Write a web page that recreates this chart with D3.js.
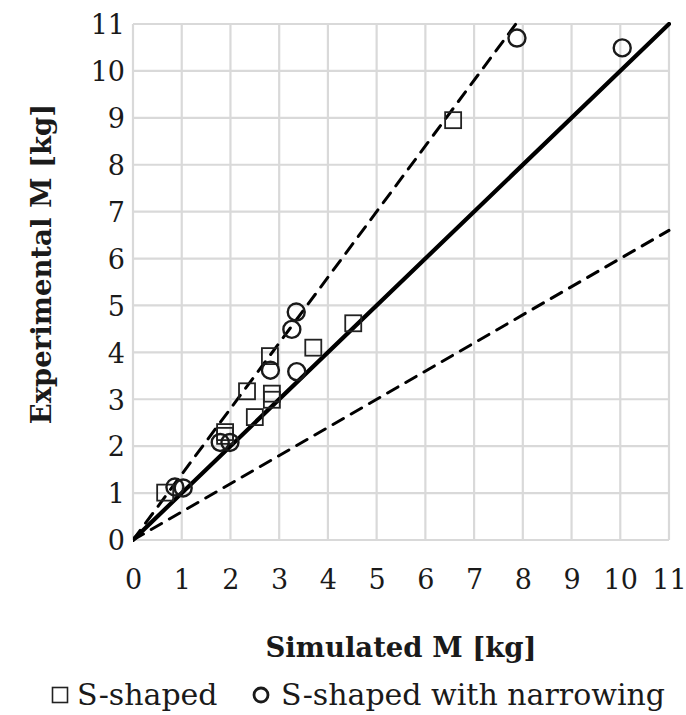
<!DOCTYPE html>
<html>
<head>
<meta charset="utf-8">
<script src="https://cdn.jsdelivr.net/npm/d3@7/dist/d3.min.js"></script>
<style>
  html, body { margin: 0; padding: 0; background: #fff; }
  svg { display: block; }
  text { font-family: "DejaVu Serif", "Liberation Serif", serif; fill: #1a1a1a; }
</style>
</head>
<body>
<svg id="chart" width="686" height="715"></svg>
<script>
// ---- data ----
const ticks = [0, 1, 2, 3, 4, 5, 6, 7, 8, 9, 10, 11];
const sShapedSim = [6.57, 4.52, 3.70, 2.81, 2.34, 2.85, 2.85, 2.50, 1.89, 1.89, 0.66];
const sShapedExp = [8.95, 4.62, 4.10, 3.92, 3.17, 3.12, 2.99, 2.62, 2.30, 2.22, 1.01];
const narrowSim = [7.88, 10.04, 3.35, 3.26, 2.82, 3.36, 1.79, 1.99, 0.86, 1.03];
const narrowExp = [10.70, 10.49, 4.86, 4.49, 3.62, 3.59, 2.08, 2.08, 1.13, 1.11];
const refSlopes = [1.0, 1.4, 0.6]; // y = x and ±40 %
const legendLabels = ["S-shaped", "S-shaped with narrowing"];

// ---- layout ----
const svg = d3.select("#chart");
const L = 133, R = 669, T = 24, B = 540;
const x = d3.scaleLinear().domain([0, 11]).range([L, R]);
const y = d3.scaleLinear().domain([0, 11]).range([B, T]);

// grid
const grid = svg.append("g");
grid.selectAll("line.v").data(ticks).join("line")
  .attr("x1", d => x(d)).attr("x2", d => x(d))
  .attr("y1", y(0)).attr("y2", y(11))
  .attr("stroke", "#d9d9d9").attr("stroke-width", 2.2);
grid.selectAll("line.h").data(ticks).join("line")
  .attr("y1", d => y(d)).attr("y2", d => y(d))
  .attr("x1", x(0)).attr("x2", x(11))
  .attr("stroke", "#d9d9d9").attr("stroke-width", 2.2);

// axes (labels only)
const xAxis = d3.axisBottom(x).tickValues(ticks).tickSize(0).tickPadding(0).tickFormat(d3.format("d"));
const gx = svg.append("g").attr("transform", `translate(0, ${B + 30})`).call(xAxis);
gx.select(".domain").remove();
gx.selectAll("text").attr("font-size", 27).attr("dy", "0.71em").attr("fill", "#1a1a1a")
  .style("font-family", '"DejaVu Serif", serif');

const yAxis = d3.axisLeft(y).tickValues(ticks).tickSize(0).tickPadding(0).tickFormat(d3.format("d"));
const gy = svg.append("g").attr("transform", `translate(${L - 8}, 0)`).call(yAxis);
gy.select(".domain").remove();
gy.selectAll("text").attr("font-size", 27).attr("dy", "0.36em").attr("fill", "#1a1a1a")
  .style("font-family", '"DejaVu Serif", serif');

// clip
svg.append("clipPath").attr("id", "plotclip").append("rect")
  .attr("x", L).attr("y", T - 2).attr("width", R - L + 2).attr("height", B - T + 4);

// reference lines
const lines = svg.append("g").attr("clip-path", "url(#plotclip)");
refSlopes.forEach((s, i) => {
  const xe = Math.min(11, 11 / s);
  lines.append("line")
    .attr("x1", x(0)).attr("y1", y(0))
    .attr("x2", x(xe)).attr("y2", y(xe * s))
    .attr("stroke", "#000")
    .attr("stroke-width", i === 0 ? 4.2 : 3)
    .attr("stroke-dasharray", i === 0 ? null : "12,9")
    .attr("stroke-linecap", "round");
});

// markers
const sq = 16;
const sData = sShapedSim.map((v, i) => [v, sShapedExp[i]]);
const nData = narrowSim.map((v, i) => [v, narrowExp[i]]);
svg.append("g").selectAll("rect").data(sData).join("rect")
  .attr("x", d => x(d[0]) - sq / 2).attr("y", d => y(d[1]) - sq / 2)
  .attr("width", sq).attr("height", sq)
  .attr("fill", "none").attr("stroke", "#222").attr("stroke-width", 1.8);
svg.append("g").selectAll("circle").data(nData).join("circle")
  .attr("cx", d => x(d[0])).attr("cy", d => y(d[1])).attr("r", 8.5)
  .attr("fill", "none").attr("stroke", "#1a1a1a").attr("stroke-width", 2.4);

// axis titles
svg.append("text").attr("x", (L + R) / 2 + 0).attr("y", 657)
  .attr("text-anchor", "middle").attr("font-size", 27.5).attr("font-weight", "bold")
  .text("Simulated M [kg]");
svg.append("text").attr("transform", `translate(51, 264) rotate(-90)`)
  .attr("text-anchor", "middle").attr("font-size", 27.5).attr("font-weight", "bold")
  .text("Experimental M [kg]");

// legend
const lg = svg.append("g");
lg.append("rect").attr("x", 52.5).attr("y", 687.5).attr("width", 15).attr("height", 15)
  .attr("fill", "none").attr("stroke", "#222").attr("stroke-width", 1.6);
lg.append("text").attr("x", 77).attr("y", 705).attr("font-size", 30).text(legendLabels[0]);
lg.append("circle").attr("cx", 261).attr("cy", 695).attr("r", 7)
  .attr("fill", "none").attr("stroke", "#1a1a1a").attr("stroke-width", 2.8);
lg.append("text").attr("x", 281).attr("y", 705).attr("font-size", 30).text(legendLabels[1]);
</script>
</body>
</html>
